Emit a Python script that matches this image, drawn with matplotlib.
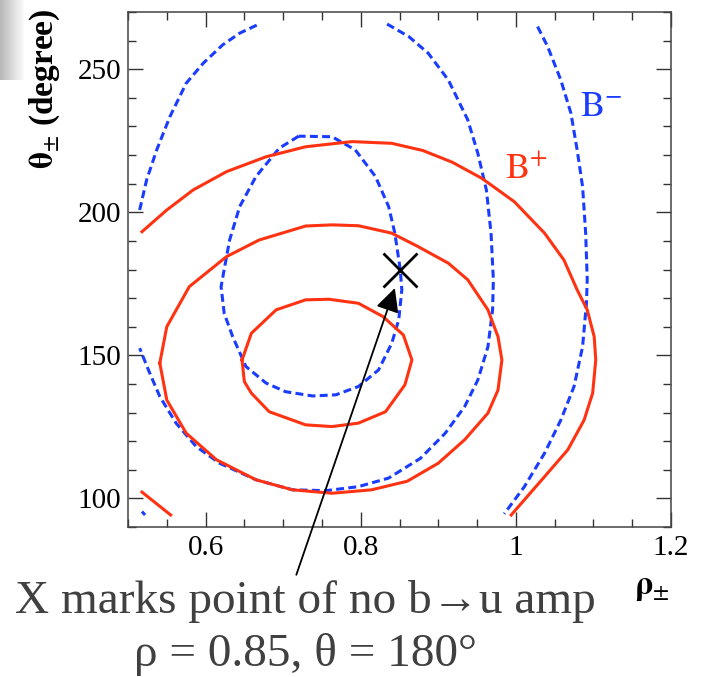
import numpy as np
import matplotlib
matplotlib.use("Agg")
import matplotlib.pyplot as plt
from matplotlib.ticker import MultipleLocator

plt.rcParams['font.family'] = ['Liberation Serif', 'DejaVu Serif', 'DejaVu Sans']
plt.rcParams['mathtext.fontset'] = 'stix'

# B+ contours (solid red)
bp_inner_x = [0.647, 0.659, 0.691, 0.729, 0.759, 0.797, 0.829, 0.855, 0.866, 0.857,
              0.832, 0.797, 0.763, 0.729, 0.682, 0.659, 0.650, 0.647]
bp_inner_y = [148.4, 157.7, 165.9, 169.4, 169.6, 168.2, 163.5, 157.1, 148.4, 139.7,
              130.3, 126.3, 125.1, 125.7, 130.3, 136.8, 140.8, 148.4]

bp_mid_x = [0.541, 0.550, 0.579, 0.627, 0.669, 0.729, 0.763, 0.797, 0.840, 0.874,
            0.913, 0.938, 0.964, 0.977, 0.982, 0.977, 0.964, 0.934, 0.900, 0.860,
            0.814, 0.763, 0.712, 0.665, 0.614, 0.575, 0.550, 0.541]
bp_mid_y = [147.3, 160.0, 174.0, 184.5, 190.3, 195.2, 195.6, 195.3, 192.7, 188.0,
            182.2, 176.4, 165.9, 156.5, 148.4, 137.9, 129.8, 120.5, 112.3, 106.0,
            103.0, 101.8, 103.0, 106.5, 113.5, 122.8, 134.4, 147.3]

bp_outer_x = [0.518, 0.550, 0.584, 0.627, 0.678, 0.729, 0.789, 0.840, 0.880, 0.918,
              0.956, 0.998, 1.037, 1.062, 1.079, 1.092, 1.101, 1.103, 1.099, 1.088,
              1.067, 1.037, 0.994]
bp_outer_y = [193.2, 200.8, 207.8, 214.2, 219.4, 222.9, 224.7, 224.1, 221.6, 217.5,
              211.9, 203.7, 192.7, 183.3, 172.9, 165.9, 156.5, 148.4, 136.8, 127.4,
              117.0, 107.6, 94.2]

bp_corner_x = [0.518, 0.555]
bp_corner_y = [102.2, 94.2]

# B- contours (dashed blue)
bm_inner_x = [0.720, 0.695, 0.665, 0.644, 0.631, 0.624, 0.620, 0.624, 0.635, 0.652,
              0.678, 0.703, 0.738, 0.768, 0.797, 0.823, 0.840, 0.849, 0.853, 0.851,
              0.844, 0.836, 0.819, 0.793, 0.763, 0.720]
bm_inner_y = [226.6, 222.4, 212.5, 202.0, 190.3, 180.0, 174.0, 164.7, 156.5, 146.1,
              140.3, 137.3, 135.8, 136.2, 139.1, 144.9, 154.2, 162.4, 172.9, 179.9,
              192.7, 202.0, 212.5, 221.8, 226.4, 226.6]

bm_left_x = [0.515, 0.524, 0.537, 0.554, 0.575, 0.597, 0.622, 0.644, 0.669]
bm_left_y = [200.8, 211.3, 221.8, 233.4, 245.1, 252.1, 258.5, 262.6, 265.8]

bm_big_x = [0.834, 0.862, 0.887, 0.913, 0.938, 0.951, 0.962, 0.968, 0.971, 0.970,
            0.964, 0.951, 0.934, 0.909, 0.877, 0.836, 0.797, 0.755, 0.712, 0.665,
            0.618, 0.588, 0.562, 0.541, 0.528, 0.515]
bm_big_y = [265.8, 261.4, 255.6, 246.2, 232.3, 220.6, 207.8, 192.7, 176.4, 165.9,
            153.0, 141.4, 132.1, 122.8, 114.0, 107.1, 104.1, 102.7, 103.0, 106.5,
            112.3, 118.1, 126.3, 135.6, 143.8, 152.5]

bm_right_x = [1.028, 1.041, 1.058, 1.071, 1.079, 1.086, 1.090, 1.092, 1.091, 1.086,
              1.075, 1.058, 1.037, 1.011, 0.985]
bm_right_y = [264.9, 257.9, 246.2, 234.6, 221.8, 209.0, 192.7, 176.4, 168.2, 153.0,
              139.1, 127.4, 115.8, 104.1, 94.6]

bm_corner_x = [0.518, 0.522]
bm_corner_y = [95.4, 94.2]

no_bu_point = (0.85, 180)
arrow_tail = (0.717, 73.3)

red = '#ff3311'
blue = '#1a3cff'

fig = plt.figure(figsize=(7.02, 6.77), dpi=100)
ax = fig.add_axes([128 / 702, 1 - 527 / 677, 543 / 702, 515 / 677])

red_curves = [(bp_inner_x, bp_inner_y), (bp_mid_x, bp_mid_y),
              (bp_outer_x, bp_outer_y), (bp_corner_x, bp_corner_y)]
blue_curves = [(bm_inner_x, bm_inner_y), (bm_left_x, bm_left_y),
               (bm_big_x, bm_big_y), (bm_right_x, bm_right_y),
               (bm_corner_x, bm_corner_y)]

for cx, cy in blue_curves:
    ax.plot(cx, cy, color=blue, lw=2.2, ls=(0, (2.6, 1.4)))
for cx, cy in red_curves:
    ax.plot(cx, cy, color=red, lw=2.2, solid_joinstyle='round')

ax.plot(*no_bu_point, marker='x', ms=24, mew=2.0, color='black')
ax.annotate('', xy=(0.844, 173.5), xytext=arrow_tail,
            arrowprops=dict(arrowstyle='-|>', color='black', lw=1.3,
                            mutation_scale=36, shrinkA=0, shrinkB=0),
            annotation_clip=False)

ax.text(1.110, 236.5, r'$\mathrm{B}^{-}$', color=blue, fontsize=26,
        ha='center', va='center')
ax.text(1.014, 214.8, r'$\mathrm{B}^{+}$', color=red, fontsize=26,
        ha='center', va='center')

ax.set_xlim(0.5, 1.2)
ax.set_ylim(90, 270)
ax.xaxis.set_minor_locator(MultipleLocator(0.05))
ax.yaxis.set_minor_locator(MultipleLocator(10))
ax.set_xticks([0.6, 0.8, 1.0, 1.2], ['0.6', '0.8', '1', '1.2'])
ax.set_yticks([100, 150, 200, 250], ['100', '150', '200', '250'])
ax.tick_params(which='both', direction='in', top=True, right=True,
               color='#333333', width=1.0, labelsize=21)
ax.tick_params(which='major', length=11)
ax.tick_params(which='minor', length=5.5)
ax.tick_params(axis='x', pad=6)
ax.tick_params(axis='y', pad=5)
for sp in ax.spines.values():
    sp.set_color('#444444')
    sp.set_linewidth(1.1)

fig.text(45 / 702, 1 - 89 / 677, r'$\mathbf{\theta}_{\pm}$ (degree)',
         rotation=90, ha='center', va='center', fontsize=24, fontweight='bold')
fig.text(652 / 702, 1 - 588 / 677, r'$\mathbf{\rho}_{\pm}$', ha='center',
         va='center', fontsize=24)

fig.text(305 / 702, 1 - 613 / 677, 'X marks point of no b\u2192u amp',
         ha='center', va='baseline', fontsize=34, color='#404040')
fig.text(305 / 702, 1 - 666 / 677, '\u03c1 = 0.85, \u03b8 = 180\u00b0',
         ha='center', va='baseline', fontsize=34, color='#404040')

# faint grey patch in the top-left corner of the original screenshot
corner = fig.add_axes([0, 1 - 80 / 677, 26 / 702, 80 / 677])
grad = np.linspace(0.72, 1.0, 26)[None, :] * np.ones((80, 1))
corner.imshow(grad, cmap='gray', vmin=0, vmax=1, aspect='auto')
corner.axis('off')

fig.savefig('out.png', dpi=100)
